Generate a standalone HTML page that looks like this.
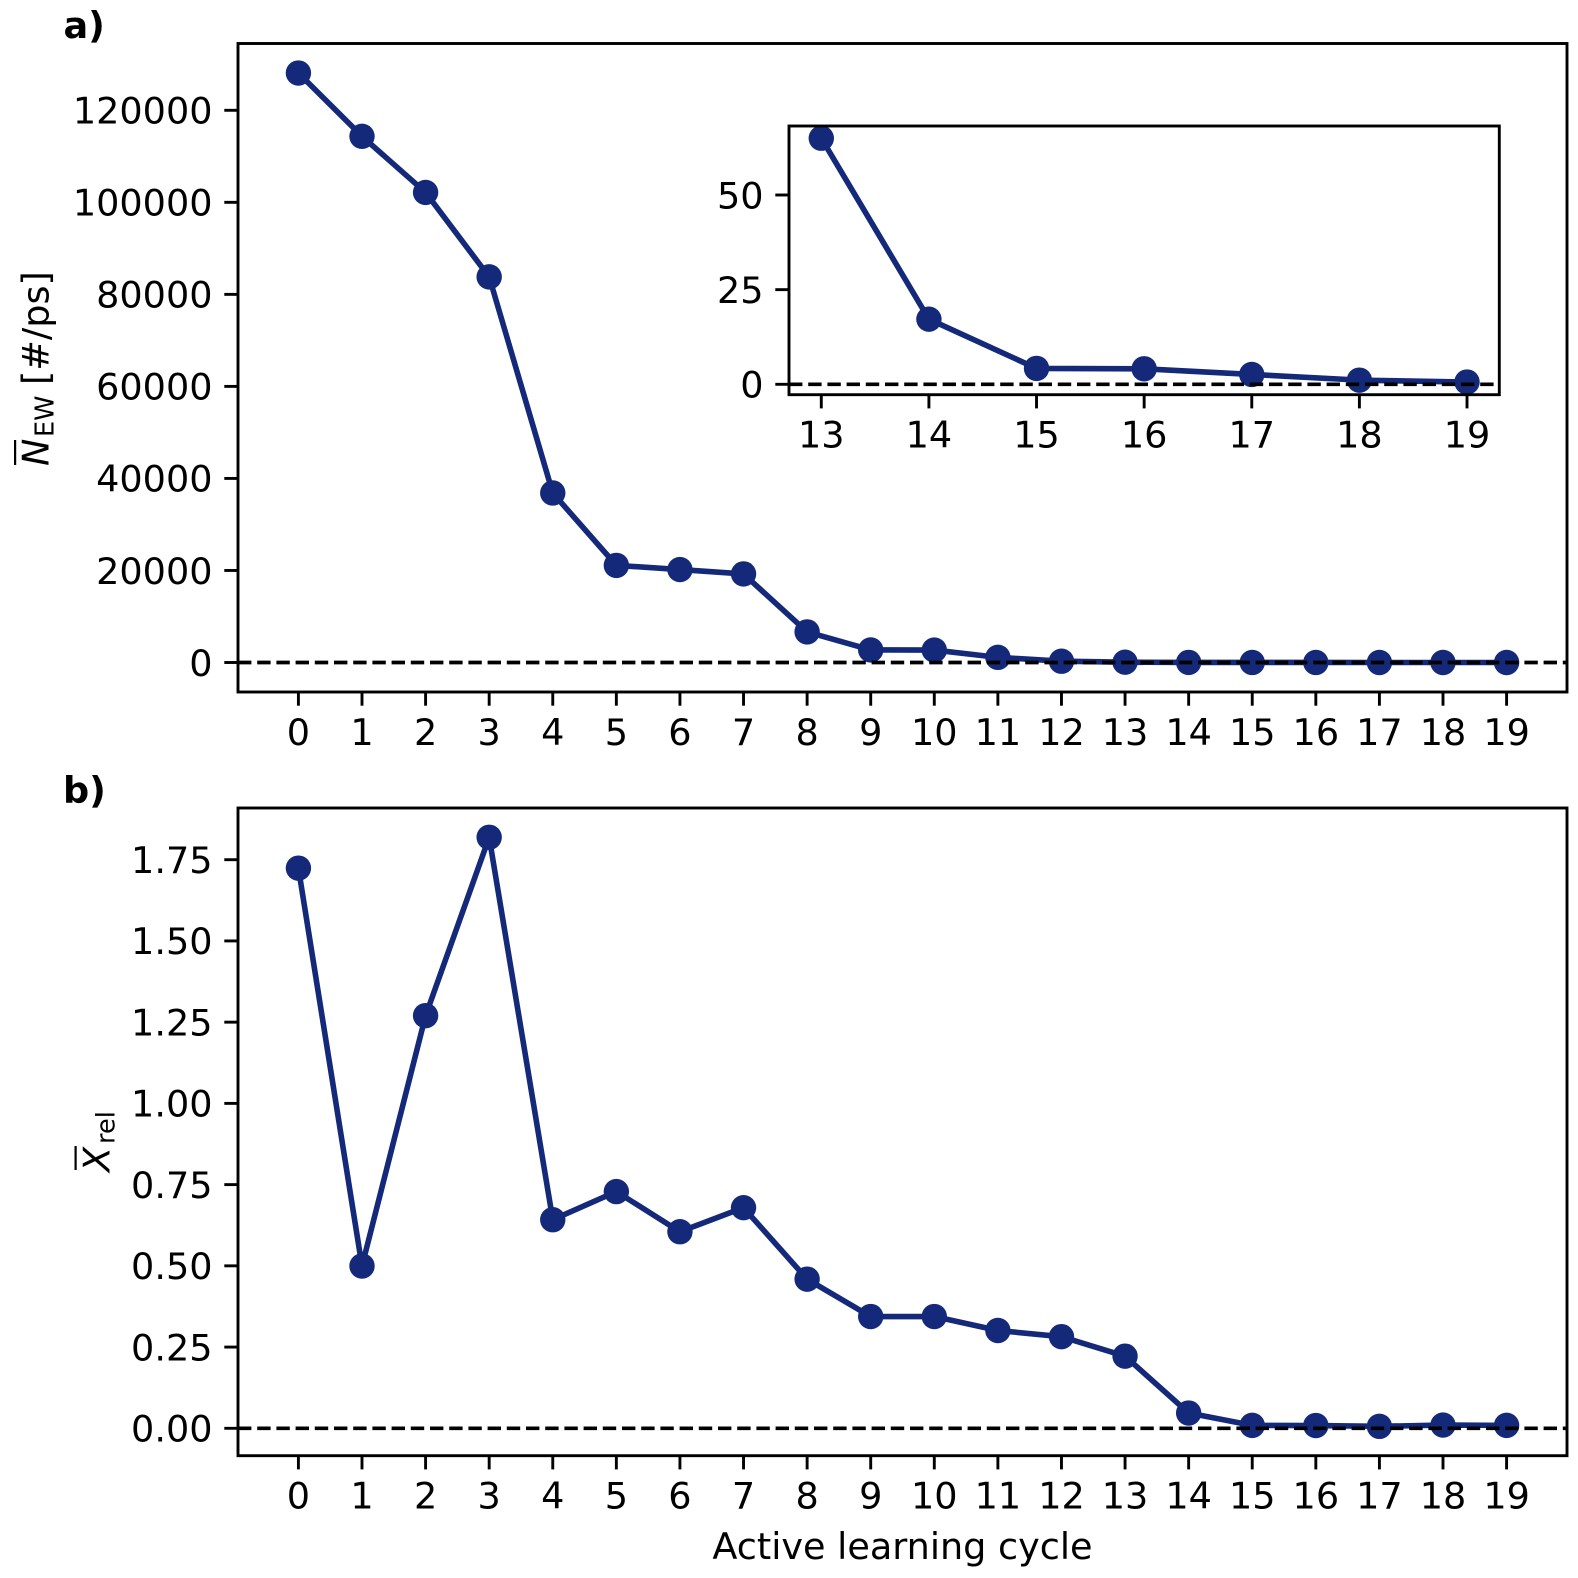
<!DOCTYPE html>
<html lang="en">
<head>
<meta charset="utf-8">
<title>Active learning cycle chart</title>
<style>
  html, body { margin: 0; padding: 0; background: #fff; }
  svg { display: block; }
  text { font-family: "DejaVu Sans", "Liberation Sans", sans-serif; fill: #000; }
</style>
</head>
<body>
<svg id="figure" xmlns="http://www.w3.org/2000/svg" width="1578" height="1578" viewBox="0 0 1578 1578">
  <rect x="0" y="0" width="1578" height="1578" fill="#ffffff"/>
  <g id="layer-a"></g>
  <g id="layer-inset"></g>
  <g id="layer-b"></g>

  <text x="63.5" y="38" font-size="36.6" font-weight="bold">a)</text>
  <text x="63" y="803" font-size="36.6" font-weight="bold">b)</text>

  <g transform="translate(48.5,465) rotate(-90)">
    <rect x="0" y="-34.5" width="25" height="2.2" fill="#000"/>
    <text x="-1" y="0" font-size="36.6" font-style="italic">N</text>
    <text x="28" y="5" font-size="25.6">EW</text>
    <text x="80" y="0" font-size="36.6">[#/ps]</text>
  </g>
  <g transform="translate(109.5,1170) rotate(-90)">
    <rect x="0" y="-35" width="24" height="2.2" fill="#000"/>
    <text x="-2" y="0" font-size="36.6" font-style="italic">X</text>
    <text x="26" y="5" font-size="25.6">rel</text>
  </g>
  <text x="902.5" y="1559" font-size="36.6" text-anchor="middle">Active learning cycle</text>
</svg>
<script>
// Panel a: main chart data
const cyclesA = [0, 1, 2, 3, 4, 5, 6, 7, 8, 9, 10, 11, 12, 13, 14, 15, 16, 17, 18, 19];
const valuesA = [128100, 114350, 102150, 83800, 36840, 21100, 20200, 19250, 6650, 2730, 2700, 1120, 280, 65, 17, 4, 4, 2.7, 1.1, 0.7];
const xTicksA = [0, 1, 2, 3, 4, 5, 6, 7, 8, 9, 10, 11, 12, 13, 14, 15, 16, 17, 18, 19];
const yTicksA = [0, 20000, 40000, 60000, 80000, 100000, 120000];
const yTickLabelsA = ['0', '20000', '40000', '60000', '80000', '100000', '120000'];

// Panel a: inset data
const cyclesInset = [13, 14, 15, 16, 17, 18, 19];
const valuesInset = [65, 17.2, 4.2, 4.1, 2.6, 1.1, 0.6];
const xTicksInset = [13, 14, 15, 16, 17, 18, 19];
const yTicksInset = [0, 25, 50];
const yTickLabelsInset = ['0', '25', '50'];

// Panel b data
const cyclesB = [0, 1, 2, 3, 4, 5, 6, 7, 8, 9, 10, 11, 12, 13, 14, 15, 16, 17, 18, 19];
const valuesB = [1.724, 0.4995, 1.27, 1.819, 0.642, 0.7285, 0.605, 0.679, 0.459, 0.344, 0.344, 0.301, 0.282, 0.222, 0.047, 0.009, 0.0085, 0.006, 0.01, 0.009];
const xTicksB = [0, 1, 2, 3, 4, 5, 6, 7, 8, 9, 10, 11, 12, 13, 14, 15, 16, 17, 18, 19];
const yTicksB = [0, 0.25, 0.5, 0.75, 1, 1.25, 1.5, 1.75];
const yTickLabelsB = ['0.00', '0.25', '0.50', '0.75', '1.00', '1.25', '1.50', '1.75'];

const SVG_NS = 'http://www.w3.org/2000/svg';
const SERIES_COLOR = '#14297a';
const FONT_SIZE = 36.6;
const TICK_LEN = 12.7;
const SPINE_W = 2.9;
const LINE_W = 5.6;
const DASH_W = 3.63;
const MARKER_R = 12.7;

function make(tag, parent) {
  const el = document.createElementNS(SVG_NS, tag);
  parent.appendChild(el);
  return el;
}

function drawPanel(parent, name, box, xDomain, yAnchor, xs, ys, xTicks, yTicks, yLabels) {
  // x scale from the axis domain; y scale from two anchor values to two pixel rows
  const xScale = v => box.left + (v - xDomain[0]) / (xDomain[1] - xDomain[0]) * (box.right - box.left);
  const yScale = v => yAnchor.py0 + (v - yAnchor.v0) / (yAnchor.v1 - yAnchor.v0) * (yAnchor.py1 - yAnchor.py0);

  const bg = make('rect', parent);
  
  
  bg.setAttribute('x', box.left);
  bg.setAttribute('y', box.top);
  bg.setAttribute('width', box.right - box.left);
  bg.setAttribute('height', box.bottom - box.top);
  bg.setAttribute('fill', '#ffffff');

  const line = make('polyline', parent);
  
  
  line.setAttribute('points', xs.map((x, i) => xScale(x).toFixed(2) + ',' + yScale(ys[i]).toFixed(2)).join(' '));
  line.setAttribute('fill', 'none');
  line.setAttribute('stroke', SERIES_COLOR);
  line.setAttribute('stroke-width', LINE_W);
  line.setAttribute('stroke-linejoin', 'round');

  xs.forEach((x, i) => {
    const dot = make('circle', parent);
    
    
    dot.setAttribute('cx', xScale(x).toFixed(2));
    dot.setAttribute('cy', yScale(ys[i]).toFixed(2));
    dot.setAttribute('r', MARKER_R);
    dot.setAttribute('fill', SERIES_COLOR);
  });

  const zero = make('line', parent);
  
  
  zero.setAttribute('x1', box.left);
  zero.setAttribute('x2', box.right);
  zero.setAttribute('y1', yScale(0).toFixed(2));
  zero.setAttribute('y2', yScale(0).toFixed(2));
  zero.setAttribute('stroke', '#000000');
  zero.setAttribute('stroke-width', DASH_W);
  zero.setAttribute('stroke-dasharray', '13.4 5.8');

  xTicks.forEach(t => {
    const px = xScale(t);
    const tick = make('line', parent);
    
    
    tick.setAttribute('x1', px.toFixed(2));
    tick.setAttribute('x2', px.toFixed(2));
    tick.setAttribute('y1', box.bottom);
    tick.setAttribute('y2', box.bottom + TICK_LEN + 1);
    tick.setAttribute('stroke', '#000000');
    tick.setAttribute('stroke-width', SPINE_W);
    const label = make('text', parent);
    
    
    label.setAttribute('x', px.toFixed(2));
    label.setAttribute('y', box.bottom + 53);
    label.setAttribute('font-size', FONT_SIZE);
    label.setAttribute('text-anchor', 'middle');
    label.textContent = String(t);
  });

  yTicks.forEach((t, i) => {
    const py = yScale(t);
    const tick = make('line', parent);
    
    
    tick.setAttribute('x1', box.left - TICK_LEN - 1);
    tick.setAttribute('x2', box.left);
    tick.setAttribute('y1', py.toFixed(2));
    tick.setAttribute('y2', py.toFixed(2));
    tick.setAttribute('stroke', '#000000');
    tick.setAttribute('stroke-width', SPINE_W);
    const label = make('text', parent);
    
    
    label.setAttribute('x', box.left - 25.5);
    label.setAttribute('y', (py + 13.3).toFixed(2));
    label.setAttribute('font-size', FONT_SIZE);
    label.setAttribute('text-anchor', 'end');
    label.textContent = yLabels[i];
  });

  const frame = make('rect', parent);
  
  
  frame.setAttribute('x', box.left);
  frame.setAttribute('y', box.top);
  frame.setAttribute('width', box.right - box.left);
  frame.setAttribute('height', box.bottom - box.top);
  frame.setAttribute('fill', 'none');
  frame.setAttribute('stroke', '#000000');
  frame.setAttribute('stroke-width', SPINE_W);
}

drawPanel(
  document.getElementById('layer-a'), 'panel-a',
  { left: 238, right: 1567, top: 43.5, bottom: 692 },
  [-0.95, 19.95],
  { v0: 0, py0: 662.5, v1: 120000, py1: 110.3 },
  cyclesA, valuesA, xTicksA, yTicksA, yTickLabelsA
);

drawPanel(
  document.getElementById('layer-inset'), 'inset',
  { left: 789, right: 1499.3, top: 126, bottom: 394.7 },
  [12.7, 19.3],
  { v0: 0, py0: 384.3, v1: 50, py1: 195 },
  cyclesInset, valuesInset, xTicksInset, yTicksInset, yTickLabelsInset
);

drawPanel(
  document.getElementById('layer-b'), 'panel-b',
  { left: 238, right: 1567, top: 808, bottom: 1455.7 },
  [-0.95, 19.95],
  { v0: 0, py0: 1428.3, v1: 1.75, py1: 859.7 },
  cyclesB, valuesB, xTicksB, yTicksB, yTickLabelsB
);
</script>
</body>
</html>
